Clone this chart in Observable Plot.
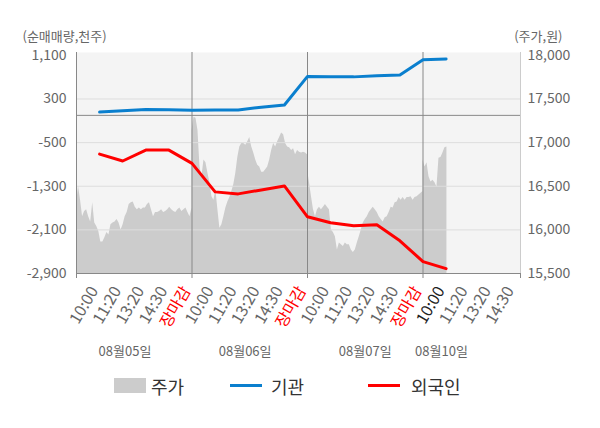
<!DOCTYPE html>
<html><head><meta charset="utf-8">
<script src="https://cdn.jsdelivr.net/npm/d3@7"></script>
<script src="https://cdn.jsdelivr.net/npm/@observablehq/plot@0.6"></script>
<style>
body{margin:0;background:#fff;font-family:"Noto Sans CJK KR","Noto Sans",sans-serif;}
#chart svg{display:block;}
#legend{position:relative;width:600px;height:63px;}
#legend .sw{position:absolute;}
#legend .lb{position:absolute;top:21px;transform:translateY(-50%);font-size:18px;color:#333;line-height:1;white-space:nowrap;}
</style></head>
<body>
<div id="chart"></div>
<div id="legend"></div>
<script>
// ---- data ----
const slotLabels = ["10:00","11:20","13:20","14:30","장마감",
                    "10:00","11:20","13:20","14:30","장마감",
                    "10:00","11:20","13:20","14:30","장마감",
                    "10:00","11:20","13:20","14:30"];
const currentSlot = 16;
const dateLabels = ["08월05일","08월06일","08월07일","08월10일"];
const datePos = [2.1, 7.3, 12.5, 15.8];
const institution = [60, 85, 107, 103, 94, 100, 100, 149, 189, 715, 709, 706, 727, 742, 1020, 1034];
const foreign = [-710, -837, -637, -637, -880, -1403, -1440, -1367, -1294, -1860, -1970, -2024, -2006, -2300, -2682, -2810];
const priceDay1 = [16290,16500,16340,16150,16210,16230,16150,16090,16310,16080,16040,15980,15860,15860,15910,15970,15940,16060,16080,16090,16120,16080,16000,16060,16150,16200,16290,16310,16320,16260,16230,16250,16230,16250,16250,16290,16310,16230,16150,16200,16200,16210,16230,16200,16210,16230,16260,16230,16210,16200,16230,16250,16210,16230,16250,16200,16150,16250];
const priceDay2 = [17140,17290,17280,17140,16720,16610,16800,16770,16650,16540,16380,16340,16460,16230,16020,16060,16150,16250,16320,16370,16440,16520,16650,16830,16950,16990,16990,16970,17010,17060,16950,16880,16800,16740,16720,16660,16660,16690,16720,16800,16910,16990,16950,17010,17060,17110,17090,16990,16950,16940,16910,16930,16860,16910,16890,16880,16890,16880,16860];
const priceDay3 = [16690,16540,16380,16230,16150,16230,16260,16230,16260,16290,16260,16230,16000,15970,15920,15770,15850,15830,15810,15850,15830,15830,15770,15740,15770,15850,15920,16000,16080,16120,16150,16200,16230,16260,16230,16200,16150,16120,16090,16140,16150,16200,16260,16250,16310,16320,16370,16340,16370,16340,16370,16370,16380,16340,16370,16380,16400,16420,16440];
const priceDay4 = [16800,16720,16770,16610,16550,16570,16540,16490,16820,16830,16880,16940,16950];
const leftTicks = [1100, 300, -500, -1300, -2100, -2900];
const rightTicks = [18000, 17500, 17000, 16500, 16000, 15500];
const legendItems = [
  {name:"주가", kind:"box", color:"#cccccc"},
  {name:"기관", kind:"line", color:"#0a7fce"},
  {name:"외국인", kind:"line", color:"#ff0000"}
];

// ---- derived ----
const SLOTS_PER_DAY = 5;
const xMax = 19.22;
const yMin = -2900, yMax = 1100, yTop = 1153;
const pMin = 15500, pMax = 18000;
const toLeft = p => yMin + (p - pMin) * (yMax - yMin) / (pMax - pMin);
const fromLeft = v => pMin + (v - yMin) * (pMax - pMin) / (yMax - yMin);

const priceRows = [];
[priceDay1, priceDay2, priceDay3].forEach((arr, d) => {
  arr.forEach((p, i) => priceRows.push({s: d * SLOTS_PER_DAY + SLOTS_PER_DAY * i / (arr.length - 1), p}));
});
priceDay4.forEach((p, i) => priceRows.push({s: 3 * SLOTS_PER_DAY + i * SLOTS_PER_DAY / 58, p}));

const instRows = institution.map((v, i) => ({s: i + 1, v}));
const forRows = foreign.map((v, i) => ({s: i + 1, v}));
const xLabelRows = slotLabels.map((label, i) => ({
  s: i + 1, label,
  color: label === "장마감" ? "#ff0000" : (i + 1 === currentSlot ? "#222222" : "#666666")
}));
const dateRows = dateLabels.map((t, i) => ({s: datePos[i], t}));
const dayLines = [5, 10, 15];
const gridVals = leftTicks.filter(v => v !== yMax && v !== yMin);

const font = '"Noto Sans CJK KR","Noto Sans",sans-serif';
const chart = Plot.plot({
  width: 600, height: 365,
  marginLeft: 76, marginRight: 80, marginTop: 52, marginBottom: 92,
  style: {fontFamily: font, fontSize: "14px", color: "#666", background: "#fff", overflow: "visible"},
  x: {domain: [0, xMax], axis: null},
  y: {domain: [yMin, yTop], axis: null},
  color: {type: "identity"},
  marks: [
    Plot.frame({fill: "#f4f4f4", stroke: "none"}),
    Plot.areaY(priceRows, {x: "s", y1: yMin, y2: d => toLeft(d.p), fill: "#cccccc"}),
    Plot.ruleY(gridVals, {stroke: "#dddddd", strokeWidth: 1}),
    Plot.ruleY([0], {stroke: "#888888", strokeWidth: 1}),
    Plot.ruleX(dayLines, {stroke: "#888888", strokeWidth: 1}),
    Plot.ruleX([0], {stroke: "#888888", strokeWidth: 1}),
    Plot.ruleX([xMax], {stroke: "#cccccc", strokeWidth: 1}),
    Plot.ruleY([yMin], {stroke: "#888888", strokeWidth: 1}),
    Plot.line(instRows, {x: "s", y: "v", stroke: "#0a7fce", strokeWidth: 3}),
    Plot.line(forRows, {x: "s", y: "v", stroke: "#ff0000", strokeWidth: 3}),
    Plot.axisX([0, 5, 10, 15, xMax], {tickSize: 5, tickFormat: () => "", stroke: "#888888", label: null}),
    Plot.axisY(leftTicks, {anchor: "left", tickSize: 0, tickPadding: 10, fontSize: 14, fill: "#666", label: null,
      tickFormat: d => d.toLocaleString("en-US")}),
    Plot.axisY(rightTicks.map(toLeft), {anchor: "right", tickSize: 0, tickPadding: 7, fontSize: 14, fill: "#666", label: null,
      tickFormat: d => Math.round(fromLeft(d)).toLocaleString("en-US")}),
    Plot.text(xLabelRows, {x: "s", text: "label", fill: "color", frameAnchor: "bottom",
      rotate: -60, textAnchor: "end", dy: 17, dx: -1, fontSize: 16}),
    Plot.text(dateRows, {x: "s", text: "t", frameAnchor: "bottom", dy: 82, fontSize: 13, fill: "#666"}),
    Plot.text(["(순매매량,천주)"], {frameAnchor: "top-left", textAnchor: "start", dx: -54, dy: -21, fontSize: 13, fill: "#666"}),
    Plot.text(["(주가,원)"], {frameAnchor: "top-right", textAnchor: "end", dx: 42, dy: -21, fontSize: 13, fill: "#666"})
  ]
});
document.getElementById("chart").appendChild(chart);

// legend
const legendX = [{sw: 114, lb: 151}, {sw: 230, lb: 271}, {sw: 368, lb: 411}];
const lg = document.getElementById("legend");
legendItems.forEach((it, i) => {
  const sw = document.createElement("div");
  sw.className = "sw";
  sw.style.left = legendX[i].sw + "px";
  sw.style.width = "32px";
  sw.style.background = it.color;
  if (it.kind === "box") { sw.style.top = "13px"; sw.style.height = "15px"; }
  else { sw.style.top = "19px"; sw.style.height = "3px"; }
  lg.appendChild(sw);
  const lb = document.createElement("div");
  lb.className = "lb";
  lb.style.left = legendX[i].lb + "px";
  lb.textContent = it.name;
  lg.appendChild(lb);
});
</script>
</body></html>
